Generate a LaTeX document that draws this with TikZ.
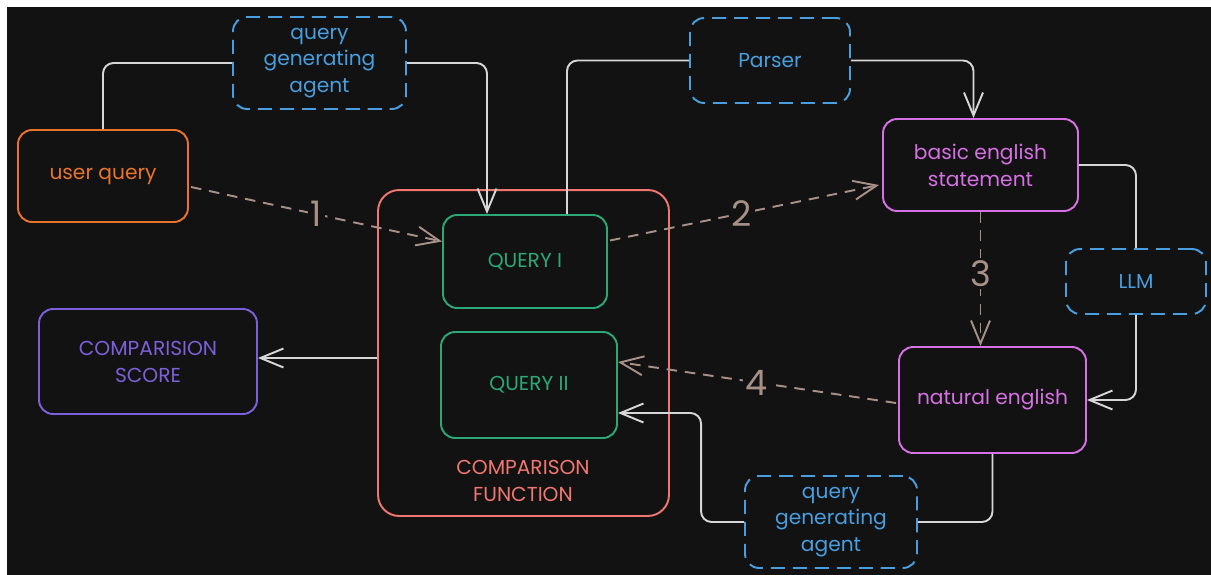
\documentclass[tikz,border=0pt]{standalone}
\usepackage{fontspec}
\setmainfont{Poppins}
\usepackage{xcolor}
\usetikzlibrary{arrows.meta, positioning, calc}

\definecolor{canvas}{RGB}{18,18,18}
\definecolor{usrorange}{RGB}{232,116,44}
\definecolor{agentblue}{RGB}{72,158,222}
\definecolor{funcred}{RGB}{242,118,112}
\definecolor{querygreen}{RGB}{44,168,118}
\definecolor{stmtpink}{RGB}{214,112,228}
\definecolor{scorepurple}{RGB}{124,96,218}
\definecolor{linegray}{RGB}{214,214,214}
\definecolor{stepbrown}{RGB}{168,144,134}

\begin{document}
\begin{tikzpicture}[
        x=0.02cm, y=-0.02cm,
        font=\fontsize{11.5}{15.3}\selectfont,
        every node/.style={align=center},
        box/.style={rectangle, rounded corners=8pt, line width=1.1pt, inner sep=2pt},
        input/.style={box, draw=usrorange, text=usrorange},
        agent/.style={box, draw=agentblue, text=agentblue, dash pattern=on 8pt off 4.5pt},
        query/.style={box, draw=querygreen, text=querygreen},
        stmt/.style={box, draw=stmtpink, text=stmtpink},
        score/.style={box, draw=scorepurple, text=scorepurple},
        func/.style={box, rounded corners=12pt, draw=funcred},
        arrow/.style={-{Straight Barb[length=4.6mm, width=3.8mm]}, line width=1.1pt, linegray, rounded corners=6pt},
        link/.style={line width=1.1pt, linegray, rounded corners=6pt},
        dasharrow/.style={-{Straight Barb[length=4.6mm, width=3.8mm]}, line width=1.1pt, stepbrown,
                          dash pattern=on 6pt off 4.5pt},
        steplbl/.style={font=\fontsize{20}{24}\selectfont, text=stepbrown, fill=canvas, inner sep=1.5pt}
    ]
        % canvas
        \useasboundingbox (0,0) rectangle (1211,575);
        \fill[white] (0,0) rectangle (1211,575);
        \fill[canvas] (7,7) rectangle (1211,575);

        % Comparison function container with both queries
        \node[func, minimum width=5.82cm, minimum height=6.52cm] (func) at (523.5,353) {};
        \node[text=funcred] (funclbl) at (523,481) {COMPARISON\\FUNCTION};
        \node[query, minimum width=3.28cm, minimum height=1.86cm] (q1) at (525,261.5) {QUERY I};
        \node[query, minimum width=3.52cm, minimum height=2.12cm] (q2) at (529,385) {QUERY II};

        % Left column
        \node[input, minimum width=3.4cm, minimum height=1.84cm] (usr) at (103,176) {user query};
        \node[score, minimum width=4.36cm, minimum height=2.1cm] (score) at (148,361.5) {COMPARISION\\SCORE};

        % Agents and parser
        \node[agent, minimum width=3.46cm, minimum height=1.84cm] (qga1) at (319.5,63) {query\\generating\\agent};
        \node[agent, minimum width=3.2cm, minimum height=1.7cm] (parser) at (770,60.5) {Parser};
        \node[agent, minimum width=2.8cm, minimum height=1.3cm] (llm) at (1136,281.5) {LLM};
        \node[agent, minimum width=3.44cm, minimum height=1.84cm] (qga2) at (831,522) {query\\generating\\agent};

        % English statements
        \node[stmt, minimum width=3.9cm, minimum height=1.84cm] (basic) at (980.5,165) {basic english\\statement};
        \node[stmt, minimum width=3.74cm, minimum height=2.12cm] (nat) at (992.5,400) {natural english};

        % --- Solid connectors ---
        \draw[link] (usr.north) |- (qga1.west);
        \draw[arrow] (qga1.east) -| ($(q1.north)+(-38,0)$);
        \draw[link] ($(q1.north)+(42,0)$) |- (parser.west);
        \draw[arrow] (parser.east) -| ($(basic.north)+(-7,0)$);
        \draw[link] (basic.east) -| (llm.north);
        \draw[arrow] (llm.south) |- (nat.east);
        \draw[link] (nat.south) |- (qga2.east);
        \draw[arrow] (qga2.west) -- ++(-43,0) |- ($(q2.east)+(0,28)$);
        \draw[arrow] ($(func.west)+(0,5)$) -- ($(func.west -| score.east)+(0,5)$);

        % --- Numbered steps ---
        \draw[dasharrow] ($(usr.east)+(2,11)$) -- node[steplbl, pos=0.5] {1} ($(q1.west)+(0,-20)$);
        \draw[dasharrow] ($(q1.east)+(2,-21)$) -- node[steplbl, pos=0.49] {2} ($(basic.west)+(-3,20)$);
        \draw[dasharrow] (basic.south) -- node[steplbl, pos=0.46] {3} (basic.south |- nat.north);
        \draw[dasharrow] ($(nat.west)+(-2,3)$) -- node[steplbl, pos=0.5] {4} ($(q2.east)+(0,-23)$);
    \end{tikzpicture}
\end{document}
